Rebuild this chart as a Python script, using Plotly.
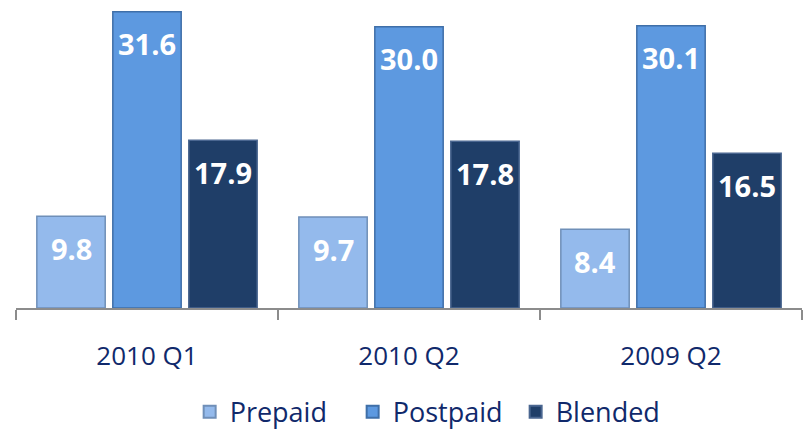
import plotly.graph_objects as go

categories = ["2010 Q1", "2010 Q2", "2009 Q2"]
series_names = ["Prepaid", "Postpaid", "Blended"]
prepaid = [9.8, 9.7, 8.4]
postpaid = [31.6, 30.0, 30.1]
blended = [17.9, 17.8, 16.5]

colors = ["#94BAEC", "#5D99E0", "#1F3E68"]
edge = ["#6F8FB8", "#3F6FA8", "#4A6690"]

bargap = 0.13
bargroupgap = 0.10
slot = (1 - bargap) / len(series_names)

fig = go.Figure()
annotations = []
for k, (name, vals, c, e) in enumerate(zip(series_names, [prepaid, postpaid, blended], colors, edge)):
    fig.add_trace(go.Bar(
        name=name, x=categories, y=vals,
        marker=dict(color=c, line=dict(color=e, width=1.5)),
        cliponaxis=False,
    ))
    off = (k - (len(series_names) - 1) / 2) * slot
    for i, v in enumerate(vals):
        annotations.append(dict(
            x=i + off, y=v, xref="x", yref="y", text=f"<b>{v:.1f}</b>",
            showarrow=False, yanchor="middle", xanchor="center", yshift=-32,
            font=dict(family="Open Sans", size=29, color="white"),
        ))

fig.update_layout(
    width=804, height=430,
    margin=dict(l=16, r=2, t=8, b=122, autoexpand=False),
    paper_bgcolor="white", plot_bgcolor="white",
    barmode="group", bargap=bargap, bargroupgap=bargroupgap,
    annotations=annotations,
    showlegend=True,
    legend=dict(orientation="h", x=0.532, xanchor="center", y=-0.347, yanchor="middle",
                font=dict(family="Open Sans", size=27, color="#10296B"),
                entrywidth=118, entrywidthmode="pixels",
                itemsizing="constant", traceorder="normal"),
    xaxis=dict(showline=True, linecolor="#8C8C8C", linewidth=1.5,
               ticks="outside", tickson="boundaries", ticklen=10, tickcolor="#8C8C8C", tickwidth=1.5,
               ticklabelstandoff=24,
               tickfont=dict(family="Open Sans", size=26, color="#10296B")),
    yaxis=dict(range=[0, 32], visible=False, showgrid=False, zeroline=False),
)
fig.write_html("out.html", config={"displayModeBar": False},
               post_script="document.body.style.margin='0';document.body.style.overflow='hidden';")
